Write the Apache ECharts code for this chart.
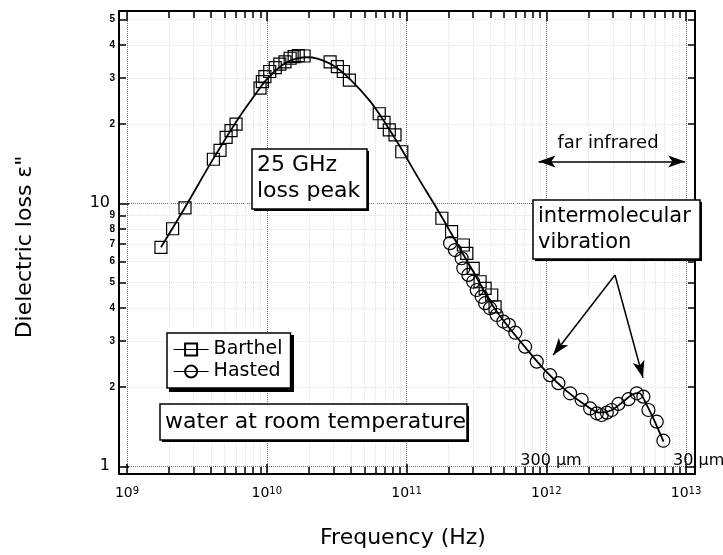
<!DOCTYPE html>
<html>
<head>
<meta charset="utf-8">
<script src="https://cdn.jsdelivr.net/npm/echarts@6/dist/echarts.min.js"></script>
<style>
  html, body { margin: 0; padding: 0; background: #fff; }
  #chart { width: 723px; height: 555px; }
</style>
</head>
<body>
<div id="chart"></div>
<script>
// Barthel measurements: frequency (Hz) and dielectric loss ε''
const barthelFreq = [1.75e9, 2.12e9, 2.6e9, 4.15e9, 4.63e9, 5.12e9, 5.55e9, 6.03e9, 8.95e9, 9.3e9,
  9.7e9, 1.05e10, 1.15e10, 1.24e10, 1.35e10, 1.47e10, 1.57e10, 1.68e10, 1.85e10, 2.84e10,
  3.2e10, 3.53e10, 3.9e10, 6.38e10, 6.9e10, 7.53e10, 8.27e10, 9.25e10, 1.79e11, 2.1e11,
  2.55e11, 2.7e11, 3.0e11, 3.36e11, 3.65e11, 4.07e11, 4.3e11];
const barthelLoss = [6.8, 8.0, 9.6, 14.7, 15.9, 17.8, 18.9, 20.0, 27.4, 29.0,
  30.3, 31.7, 32.8, 33.8, 34.5, 35.6, 36.1, 36.4, 36.3, 34.5,
  33.1, 31.7, 29.4, 21.9, 20.3, 19.0, 18.2, 15.7, 8.77, 7.8,
  6.94, 6.45, 5.66, 5.03, 4.75, 4.48, 4.04];

// Hasted measurements
const hastedFreq = [2.05e11, 2.22e11, 2.48e11, 2.55e11, 2.77e11, 3.0e11, 3.18e11, 3.45e11, 3.65e11, 3.96e11,
  4.42e11, 4.93e11, 5.4e11, 6.0e11, 7.05e11, 8.55e11, 1.064e12, 1.22e12, 1.48e12, 1.79e12,
  2.06e12, 2.30e12, 2.49e12, 2.71e12, 2.94e12, 3.28e12, 3.87e12, 4.44e12, 4.95e12, 5.38e12,
  6.17e12, 6.88e12];
const hastedLoss = [7.05, 6.64, 6.18, 5.66, 5.34, 5.03, 4.68, 4.41, 4.17, 3.99,
  3.76, 3.55, 3.45, 3.22, 2.85, 2.5, 2.22, 2.07, 1.895, 1.79,
  1.66, 1.59, 1.567, 1.60, 1.637, 1.726, 1.80, 1.895, 1.84, 1.637,
  1.478, 1.251];

// Solid curve through both data sets
const curveFreq = [1.75e9, 2.5e9, 4e9, 6e9, 8e9, 1e10, 1.3e10, 1.6e10, 1.9e10, 2.3e10,
  3e10, 4e10, 5.5e10, 7e10, 9e10, 1.2e11, 1.6e11, 2e11, 2.5e11, 3e11,
  4e11, 5e11, 7e11, 1e12, 1.4e12, 1.9e12, 2.4e12, 2.9e12, 3.5e12, 4.1e12,
  4.6e12, 5.2e12, 5.9e12, 6.9e12];
const curveLoss = [6.8, 9.3, 14.3, 20.3, 25.3, 29.6, 33.6, 35.4, 35.9, 35.5,
  33.4, 29.4, 24.4, 20.3, 16.4, 12.6, 9.8, 8.0, 6.5, 5.5,
  4.2, 3.55, 2.85, 2.29, 1.93, 1.71, 1.6, 1.63, 1.75, 1.87,
  1.9, 1.72, 1.5, 1.24];

// Axis ticks and labels
const xMajorTicks = [1e9, 1e10, 1e11, 1e12, 1e13];
const tickMantissas = [2, 3, 4, 5, 6, 7, 8, 9];
const xDecades = [1e9, 1e10, 1e11, 1e12];
const xMinorTicks = [].concat(...xDecades.map(d => tickMantissas.map(m => m * d)));
const yMajorTicks = [1, 10];
const yMinorTicks = [2, 3, 4, 5, 6, 7, 8, 9, 20, 30, 40, 50];

// Annotation arrows (data coordinates)
const farIrArrow = [[8.8e11, 14.4], [9.85e12, 14.4]];
const vibrationArrowStart = [3.1e12, 5.34];
const vibrationArrowEnds = [[1.12e12, 2.65], [4.92e12, 2.17]];

const FONT = "DejaVu Sans";
const X_MIN = Math.pow(10, 8.9428), X_MAX = Math.pow(10, 13.064);
const Y_MIN = Math.pow(10, -0.0293), Y_MAX = Math.pow(10, 1.731);

const pairs = (xs, ys) => xs.map((x, i) => [x, ys[i]]);

const xFmt = v => '{b|10}{s|' + Math.round(Math.log10(v)) + '}';
const yMinorFmt = v => String(Math.round(v >= 10 ? v / 10 : v));

const tickLine = { color: '#000', width: 1.5 };
const frameLine = { show: true, onZero: false, lineStyle: { color: '#000', width: 2 } };

function xAxisDef(position, ticks, len, label, grid, line) {
  return {
    type: 'log', position, min: X_MIN, max: X_MAX,
    axisLine: line ? frameLine : { show: false },
    axisTick: { show: true, inside: true, length: len, customValues: ticks, lineStyle: tickLine },
    axisLabel: label || { show: false },
    splitLine: grid ? { show: true, lineStyle: grid } : { show: false },
    minorTick: { show: false }
  };
}

function yAxisDef(position, ticks, len, label, grid, line) {
  return {
    type: 'log', position, min: Y_MIN, max: Y_MAX,
    axisLine: line ? frameLine : { show: false },
    axisTick: { show: true, inside: true, length: len, customValues: ticks, lineStyle: tickLine },
    axisLabel: label || { show: false },
    splitLine: grid ? { show: true, lineStyle: grid } : { show: false },
    minorTick: { show: false }
  };
}

const xLabel = {
  show: true, customValues: xMajorTicks, margin: 12, formatter: xFmt,
  fontFamily: FONT, fontSize: 14, color: '#000',
  rich: {
    b: { fontFamily: FONT, fontSize: 14, color: '#000' },
    s: { fontFamily: FONT, fontSize: 10, color: '#000', verticalAlign: 'top' }
  }
};
const yBigLabel = {
  show: true, customValues: yMajorTicks, margin: 9,
  fontFamily: FONT, fontSize: 16, color: '#000'
};
const ySmallLabel = {
  show: true, customValues: yMinorTicks, margin: 4, formatter: yMinorFmt,
  fontFamily: 'Liberation Sans', fontWeight: 'bold', fontSize: 10, color: '#000'
};

const majorGrid = { type: 'dotted', color: '#6a6a6a', width: 1 };
const minorGrid = { type: 'dotted', color: '#e2e2e2', width: 1 };

function textBox(x, y, w, h, text, tx, ty, size, lh) {
  return {
    type: 'group', x, y,
    children: [
      { type: 'rect', z: 100, shape: { x: 2, y: 2, width: w, height: h }, style: { fill: '#000' } },
      { type: 'rect', z: 101, shape: { x: 0, y: 0, width: w, height: h }, style: { fill: '#fff', stroke: '#000', lineWidth: 1.5 } },
      { type: 'text', z: 102, x: tx, y: ty, style: { text, fontFamily: FONT, fontSize: size, fill: '#000', lineHeight: lh, align: 'left', verticalAlign: 'top' } }
    ]
  };
}

const markerStyle = { color: 'rgba(0,0,0,0)', borderColor: '#000', borderWidth: 1.2 };

const option = {
  animation: false,
  backgroundColor: '#fff',
  grid: { left: 119, right: 28, top: 11, bottom: 81 },
  xAxis: [
    xAxisDef('bottom', xMajorTicks, 10, xLabel, majorGrid, true),
    xAxisDef('bottom', xMinorTicks, 7, null, minorGrid, false),
    xAxisDef('top', xMajorTicks, 10, null, null, true),
    xAxisDef('top', xMinorTicks, 7, null, null, false)
  ],
  yAxis: [
    yAxisDef('left', yMajorTicks, 10, yBigLabel, majorGrid, true),
    yAxisDef('left', yMinorTicks, 7, ySmallLabel, minorGrid, false),
    yAxisDef('right', yMajorTicks, 10, null, null, true),
    yAxisDef('right', yMinorTicks, 7, null, null, false)
  ],
  legend: {
    data: ['Barthel', 'Hasted'], orient: 'vertical', left: 167, top: 333,
    itemWidth: 35, itemHeight: 15, itemGap: 1, padding: [6, 8, 6, 6],
    backgroundColor: '#fff', borderColor: '#000', borderWidth: 1.5, borderRadius: 0,
    textStyle: { fontFamily: FONT, fontSize: 19, color: '#000', lineHeight: 21 },
    lineStyle: { color: '#000', width: 1.2, opacity: 1 },
    selectedMode: false, z: 6
  },
  series: [
    {
      name: 'curve', type: 'line', data: pairs(curveFreq, curveLoss),
      smooth: 0.3, symbol: 'none', silent: true, z: 3,
      lineStyle: { color: '#000', width: 1.8 },
      markLine: {
        silent: true, animation: false, symbol: ['none', 'arrow'], symbolSize: [9, 17],
        lineStyle: { color: '#000', width: 1.5, type: 'solid' }, label: { show: false },
        emphasis: { disabled: true },
        data: [
          [{ coord: vibrationArrowStart }, { coord: vibrationArrowEnds[0] }],
          [{ coord: vibrationArrowStart }, { coord: vibrationArrowEnds[1] }],
          [{ coord: farIrArrow[0], symbol: 'arrow' }, { coord: farIrArrow[1] }]
        ]
      }
    },
    {
      name: 'Barthel', type: 'line', data: pairs(barthelFreq, barthelLoss),
      symbol: 'rect', symbolSize: 12, showAllSymbol: true, z: 4,
      lineStyle: { opacity: 0 }, itemStyle: markerStyle, emphasis: { disabled: true }
    },
    {
      name: 'Hasted', type: 'line', data: pairs(hastedFreq, hastedLoss),
      symbol: 'circle', symbolSize: 13, showAllSymbol: true, z: 4,
      lineStyle: { opacity: 0 }, itemStyle: markerStyle, emphasis: { disabled: true }
    }
  ],
  graphic: [
    { type: 'rect', z: 5, shape: { x: 169, y: 335, width: 125, height: 57 }, style: { fill: '#000' } },
    textBox(252, 149, 115, 60, '25 GHz\nloss peak', 5, 3, 22, 26),
    textBox(533, 200, 167, 59, 'intermolecular\nvibration', 5, 4, 21, 26),
    textBox(160, 404, 307, 36, 'water at room temperature', 5, 5, 22, 26),
    { type: 'text', z: 102, x: 608, y: 143, style: { text: 'far infrared', fontFamily: FONT, fontSize: 18, fill: '#000', align: 'center', verticalAlign: 'middle' } },
    { type: 'text', z: 102, x: 551, y: 461, style: { text: '300 µm', fontFamily: FONT, fontSize: 16, fill: '#000', align: 'center', verticalAlign: 'middle' } },
    { type: 'text', z: 102, x: 673, y: 461, style: { text: '30 µm', fontFamily: FONT, fontSize: 16, fill: '#000', align: 'left', verticalAlign: 'middle' } },
    { type: 'text', z: 102, x: 403, y: 538, style: { text: 'Frequency (Hz)', fontFamily: FONT, fontSize: 22, fill: '#000', align: 'center', verticalAlign: 'middle' } },
    { type: 'text', z: 102, x: 25, y: 247, rotation: Math.PI / 2, style: { text: 'Dielectric loss ε"', fontFamily: FONT, fontSize: 22, fill: '#000', align: 'center', verticalAlign: 'middle' } }
  ]
};

const chart = echarts.init(document.getElementById('chart'));
chart.setOption(option);
</script>
</body>
</html>
